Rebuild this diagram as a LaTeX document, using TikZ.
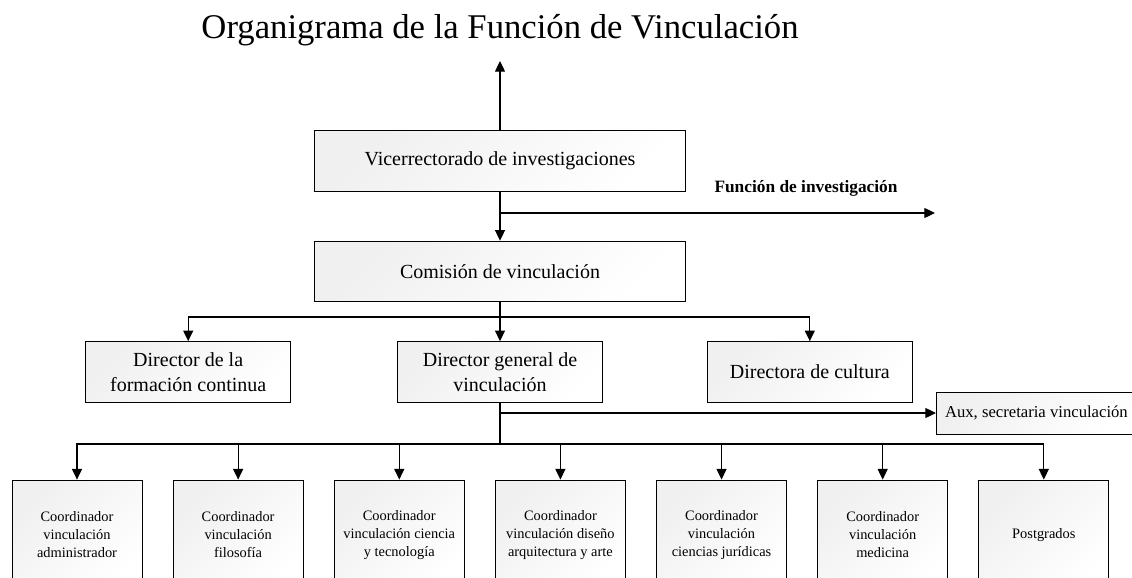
\documentclass[tikz,border=0pt]{standalone}
\usepackage{fontspec}
\setmainfont{Liberation Serif}
\usetikzlibrary{positioning,arrows.meta}

\begin{document}
\begin{tikzpicture}[
    x=0.75pt, y=-0.75pt,
    box/.style={draw, line width=0.6pt, rectangle, align=center, inner sep=2pt,
        left color=black!6, right color=white, shading angle=45},
    bigbox/.style={box, minimum width=278.25pt, minimum height=45.5pt, font=\fontsize{15}{18.75}\selectfont},
    midbox/.style={box, minimum width=153.75pt, minimum height=45.75pt, font=\fontsize{15}{18.75}\selectfont},
    coord/.style={box, minimum width=97.5pt, minimum height=82.5pt, font=\fontsize{10.8}{13.5}\selectfont},
    auxbox/.style={box, minimum width=150pt, minimum height=31.5pt, anchor=west, inner sep=3pt, font=\fontsize{12.5}{15}\selectfont},
    link/.style={line width=0.9pt},
    arr/.style={link, -{Triangle[length=8pt, width=7.5pt]}}
]
\useasboundingbox (0,0) rectangle (1132,578);

% Title
\node (title) at (500,30) {\fontsize{26}{30}\selectfont Organigrama de la Función de Vinculación};

% Top levels
\node[bigbox] (vice) at (500,161) {Vicerrectorado de investigaciones};
\node[bigbox, below=36.75pt of vice] (comision) {Comisión de vinculación};

% Directors
\node[midbox, below=29.25pt of comision] (general) {Director general de\\vinculación};
\node[midbox, left=79.5pt of general] (formacion) {Director de la\\formación continua};
\node[midbox, right=78pt of general] (cultura) {Directora de cultura};
\node[auxbox] (aux) at (936,413) {Aux, secretaria vinculación};

% Coordinators
\node[coord] (admin) at (77,535) {Coordinador\\vinculación\\administrador};
\node[coord, right=22.75pt of admin] (filo) {Coordinador\\vinculación\\filosofía};
\node[coord, right=22.75pt of filo] (ciencia) {Coordinador\\vinculación ciencia\\y tecnología};
\node[coord, right=22.75pt of ciencia] (diseno) {Coordinador\\vinculación diseño\\arquitectura y arte};
\node[coord, right=22.75pt of diseno] (juridicas) {Coordinador\\vinculación\\ciencias jurídicas};
\node[coord, right=22.75pt of juridicas] (medicina) {Coordinador\\vinculación\\medicina};
\node[coord, right=22.75pt of medicina] (postgrados) {Postgrados};

% Label
\node[font=\fontsize{13}{15}\selectfont\bfseries] (funclabel) at (806,188) {Función de investigación};

% Helper points
\coordinate (up) at (500,61);
\coordinate (funcend) at (935,213);
\coordinate (bus2) at (500,317);
\coordinate (bus3) at (500,444);

% Arrows
\draw[arr] (vice) -- (up);
\draw[arr] (vice) -- (comision);
\draw[arr] (vice.south |- funcend) -- (funcend);
\draw[arr] (comision) -- (general);
\draw[arr] (bus2) -| (formacion);
\draw[arr] (bus2) -| (cultura);
\draw[link] (general) -- (bus3);
\draw[arr] (general.south |- aux) -- (aux);
\draw[arr] (bus3) -| (admin);
\draw[arr] (bus3) -| (filo);
\draw[arr] (bus3) -| (ciencia);
\draw[arr] (bus3) -| (diseno);
\draw[arr] (bus3) -| (juridicas);
\draw[arr] (bus3) -| (medicina);
\draw[arr] (bus3) -| (postgrados);
\end{tikzpicture}
\end{document}
